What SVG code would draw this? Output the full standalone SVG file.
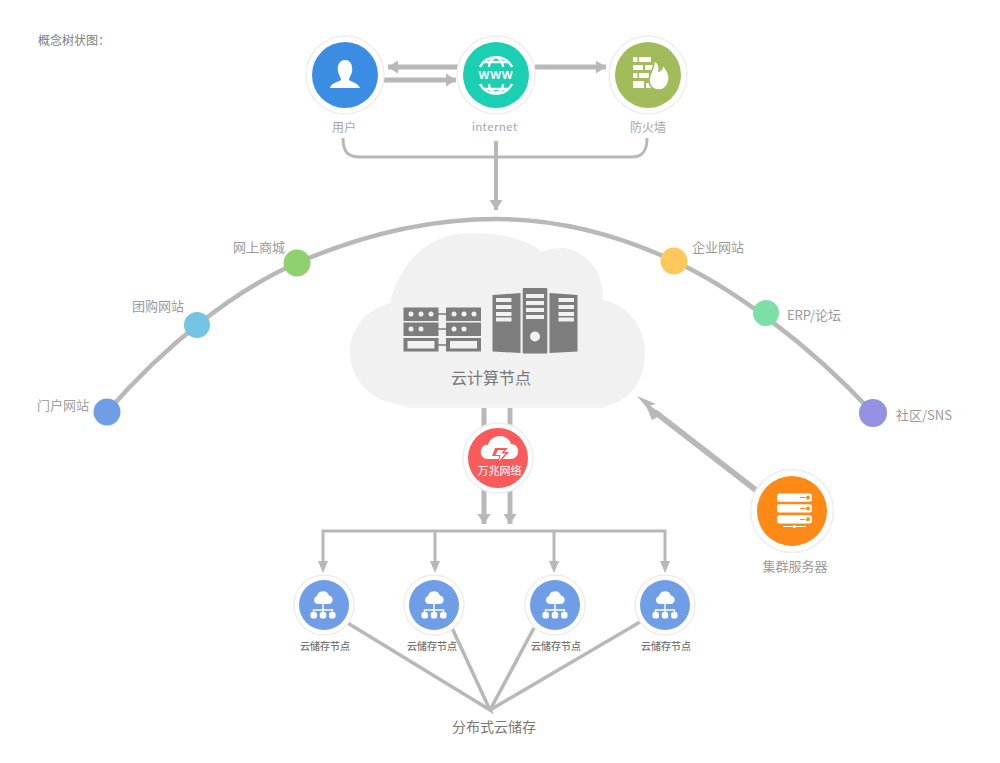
<svg xmlns="http://www.w3.org/2000/svg" xmlns:xlink="http://www.w3.org/1999/xlink" width="1000" height="763" viewBox="0 0 1000 763">
  <style>
    text { font-family: "Noto Sans CJK SC", "Noto Sans", sans-serif; text-anchor: middle; }
    .ring { fill: #fff; stroke: #eeeeee; stroke-width: 1.5; }
    .w { fill: #fff; }
    .conn { fill: none; stroke: #b8b8b8; }
    .head { fill: #b8b8b8; }
    .lbl { fill: #a6a6a6; font-size: 12px; }
    .arc-lbl { fill: #9a9a9a; font-size: 13px; }
    .store-lbl { fill: #747474; font-size: 10px; font-weight: 500; }
    .ink { fill: #7d7d7d; }
  </style>
  <defs>
    <marker id="tip" markerUnits="userSpaceOnUse" markerWidth="12" markerHeight="14" refX="10" refY="7" orient="auto">
      <path d="M0 0.5 L10 7 L0 13.5 Z" class="head"/>
    </marker>
    <g id="store-icon">
      <path class="w" d="M-5.5 -1 a4 4 0 0 1 -.6 -7.8 a6.2 6.2 0 0 1 12 -.6 a4.3 4.3 0 0 1 .6 8.4 Z"/>
      <path d="M0 -1 V7 M-9.5 9 V5 H9.5 V9" fill="none" stroke="#fff" stroke-width="1.4"/>
      <rect class="w" x="-12.5" y="7" width="6.4" height="6.4" rx="2"/>
      <rect class="w" x="-3.2" y="7" width="6.4" height="6.4" rx="2"/>
      <rect class="w" x="6.1" y="7" width="6.4" height="6.4" rx="2"/>
    </g>
  </defs>

  <rect width="1000" height="763" fill="#fff"/>
  <text x="38" y="45" style="font-size:12px;fill:#808080;text-anchor:start">概念树状图：</text>

  <!-- connectors -->
  <g id="connectors">
    <path class="conn" stroke-width="4.5" d="M107 412 C165 345 235 290 297 263 C355 238 425 219 496 219 C565 219 625 238 674 261 C730 287 805 340 873 413"/>
    <path class="conn" stroke-width="3" d="M343 138 C343 152 348 157 360 157 H632 C642 157 647 152 647 138"/>
    <path class="conn" stroke-width="4" d="M496 141 V210" marker-end="url(#tip)"/>
    <path class="conn" stroke-width="5" d="M458 67 H388" marker-end="url(#tip)"/>
    <path class="conn" stroke-width="5" d="M384 80 H456" marker-end="url(#tip)"/>
    <path class="conn" stroke-width="5" d="M535 67 H606" marker-end="url(#tip)"/>
    <path class="conn" stroke-width="5" d="M484 408 V524" marker-end="url(#tip)"/>
    <path class="conn" stroke-width="5" d="M510 408 V524" marker-end="url(#tip)"/>
    <path class="conn" stroke-width="3" d="M323 562 V531 H665 V562"/>
    <path class="conn" stroke-width="3" d="M435 531 V562 M554 531 V562"/>
    <path class="head" d="M318 561 H328 L323 573 Z M430 561 H440 L435 573 Z M549 561 H559 L554 573 Z M660 561 H670 L665 573 Z"/>
    <path class="conn" stroke-width="6" d="M757 491 L655 412"/>
    <path class="head" d="M637 396 L656 404 L650 405.5 L660 413 L656 418 L652 420 L647 408 Z"/>
    <path class="conn" stroke-width="3.5" d="M346 622 L490 710 L452 628 M490 710 L534 628 M490 710 L640 622"/>
  </g>

  <!-- top row -->
  <g id="user">
    <circle class="ring" cx="345" cy="75" r="39"/>
    <circle cx="345" cy="75" r="33" fill="#3b8de3"/>
    <path class="w" d="M330 88 C331 83 338 82 341 80 C341 78 339 75 338 72 C337 66 339 60 345 60 C351 60 353 66 352 72 C351 75 349 78 349 80 C352 82 358 83 360 88 Z"/>
    <text class="lbl" x="344" y="132">用户</text>
  </g>
  <g id="internet">
    <circle class="ring" cx="496" cy="75" r="39"/>
    <circle cx="496" cy="75" r="33" fill="#1bcfb2"/>
    <g fill="none" stroke="#fff" stroke-width="2.4">
      <path d="M480 67 A18 18 0 0 1 512 67 M480 84 A18 18 0 0 0 512 84"/>
      <path d="M489 67 C489 62 491 59 496 57 C501 59 503 62 503 67 M489 84 C489 89 491 92 496 93 C501 92 503 89 503 84"/>
      <path d="M484 62 H508 M484 89 H508"/>
    </g>
    <text x="496" y="79" style="font-family:'Liberation Sans',sans-serif;font-size:11.5px;font-weight:700;fill:#fff;letter-spacing:.8px">WWW</text>
    <text class="lbl" x="495" y="131" style="font-family:Lato,sans-serif;letter-spacing:.5px">internet</text>
  </g>
  <g id="firewall">
    <circle class="ring" cx="648" cy="75" r="39"/>
    <circle cx="648" cy="75" r="33" fill="#a2bc5b"/>
    <g class="w">
      <rect x="633" y="57" width="4.5" height="5"/><rect x="639" y="57" width="12" height="5"/>
      <rect x="633" y="65" width="10" height="5"/><rect x="645" y="65" width="8" height="5"/>
      <rect x="633" y="73" width="4.5" height="5"/><rect x="639" y="73" width="10" height="5"/>
      <rect x="633" y="81" width="11" height="7"/><rect x="646" y="83" width="10" height="5"/>
      <path d="M654 60 C659 63 660 67 659 71 C662 70 663 67 662 64 C667 69 670 74 669 80 C668 86 664 90 659 90 C653 90 649 86 649 80 C649 73 655 68 654 60 Z" stroke="#a2bc5b" stroke-width="1.6"/>
    </g>
    <text class="lbl" x="648" y="132">防火墙</text>
  </g>

  <!-- cloud with the compute node -->
  <g id="compute">
    <path d="M400 404 H612 L604 408 H408 Z" fill="#f5f5f5"/>
    <path fill="#f1f1f1" d="M403 405 C371 402 350 380 350 352 C350 328 367 309 390 303 C399 262 430 233 470 233 C500 233 528 239 542 252 C548 249 556 248 563 248 C586 250 604 272 603 300 C627 304 645 326 645 353 C645 382 628 402 607 405 Z"/>
    <g class="ink">
      <rect x="403.5" y="307.5" width="35" height="13.5"/><rect x="446" y="307.5" width="35" height="13.5"/>
      <rect x="403.5" y="322.5" width="35" height="13.5"/><rect x="446" y="322.5" width="35" height="13.5"/>
      <rect x="403.5" y="338" width="35" height="13.5"/><rect x="446" y="338" width="35" height="13.5"/>
      <path d="M438 314 H447 M438 329 H447 M438 345 H447" stroke="#7d7d7d" stroke-width="1.5"/>
      <path d="M492.5 295 L520.5 293 V353 L492.5 351.5 Z"/>
      <rect x="522.7" y="288" width="24.6" height="65.5" rx="1"/>
      <path d="M549.5 293 L577.5 295 V351.5 L549.5 353 Z"/>
    </g>
    <g fill="#f1f1f1">
      <circle cx="411" cy="314" r="2.5"/><circle cx="421" cy="314" r="2.5"/><circle cx="431" cy="314" r="2.5"/>
      <circle cx="454" cy="314" r="2.5"/><circle cx="464" cy="314" r="2.5"/><circle cx="474" cy="314" r="2.5"/>
      <circle cx="411" cy="329" r="2.5"/><circle cx="421" cy="329" r="2.5"/>
      <circle cx="454" cy="329" r="2.5"/><circle cx="464" cy="329" r="2.5"/>
      <rect x="407.5" y="341" width="27" height="7.5"/><rect x="450" y="341" width="27" height="7.5"/>
      <rect x="496" y="298" width="15.5" height="4"/><rect x="496" y="305" width="15.5" height="4"/>
      <rect x="496" y="312" width="15.5" height="4"/><rect x="496" y="317.5" width="15.5" height="4"/>
      <rect x="526" y="294" width="18" height="4"/><rect x="526" y="301" width="18" height="4"/>
      <rect x="526" y="308" width="18" height="4"/><rect x="526" y="315" width="18" height="4"/>
      <circle cx="535" cy="336.5" r="5"/>
      <rect x="558.5" y="298" width="15.5" height="4"/><rect x="558.5" y="305" width="15.5" height="4"/>
      <rect x="558.5" y="312" width="15.5" height="4"/><rect x="558.5" y="317.5" width="15.5" height="4"/>
    </g>
    <text x="491" y="384" style="font-size:16px;fill:#777">云计算节点</text>
  </g>

  <!-- points on the arc -->
  <g id="portal"><circle cx="107" cy="412" r="13.5" fill="#6f9de6"/><text x="63" y="410" style="font-size:13px;fill:#a0a0a0">门户网站</text></g>
  <g id="group-buy"><circle cx="197" cy="325" r="13" fill="#72c6e4"/><text class="arc-lbl" x="158" y="311">团购网站</text></g>
  <g id="mall"><circle cx="297" cy="263" r="13.5" fill="#8fd16f"/><text class="arc-lbl" x="259" y="252">网上商城</text></g>
  <g id="enterprise"><circle cx="674" cy="261" r="13.5" fill="#fdc95a"/><text class="arc-lbl" x="718" y="252">企业网站</text></g>
  <g id="forum"><circle cx="766" cy="313" r="13" fill="#7ddfa8"/><text class="arc-lbl" x="814" y="320">ERP/论坛</text></g>
  <g id="community"><circle cx="873" cy="413" r="14" fill="#9490e2"/><text class="arc-lbl" x="924" y="420">社区/SNS</text></g>

  <!-- network hub -->
  <g id="network">
    <circle class="ring" cx="498" cy="458" r="35"/>
    <circle cx="498" cy="458" r="30" fill="#f95a5a"/>
    <path class="w" d="M488 459 C482 459 480 454 481 450 C482 446 485 444 488 445 C489 440 494 436 500 436 C506 436 510 440 511 444 C516 444 519 448 518 453 C517 457 514 459 510 459 Z"/>
    <path d="M495 448 H508 L504 452 H509 L497 465 L499 456 H492 Z" fill="#f95a5a"/>
    <path class="w" d="M498 450 H504 L501 453.5 H505.5 L499 461 L500.5 455 H495.5 Z"/>
    <text x="499.5" y="475" style="font-size:11px;fill:#fff">万兆网络</text>
  </g>

  <!-- cluster server -->
  <g id="cluster">
    <circle class="ring" cx="792" cy="511" r="41.5"/>
    <circle cx="792" cy="511" r="35" fill="#fd8a17"/>
    <rect class="w" x="777" y="493.5" width="35" height="8.2" rx="2.5"/>
    <rect class="w" x="777" y="504.3" width="35" height="8.2" rx="2.5"/>
    <rect class="w" x="777" y="515.2" width="35" height="8.2" rx="2.5"/>
    <g fill="#fd8a17">
      <circle cx="808" cy="497.6" r="2"/><circle cx="808" cy="508.4" r="2"/><circle cx="808" cy="519.3" r="2"/>
      <path d="M800 497 h5 v1 h-5z M800 508 h5 v1 h-5z M800 519 h5 v1 h-5z"/>
    </g>
    <path d="M783 526.5 H806" stroke="#fff" stroke-width="1"/>
    <circle class="w" cx="794.5" cy="526.5" r="1.5"/>
    <text x="795" y="571" style="font-size:13px;fill:#9a9a9a">集群服务器</text>
  </g>

  <!-- storage nodes -->
  <g id="store-1">
    <circle class="ring" cx="324" cy="605" r="30"/><circle cx="324" cy="605" r="25" fill="#6f9de6"/>
    <use xlink:href="#store-icon" href="#store-icon" x="323" y="605"/>
    <text class="store-lbl" x="325" y="650">云储存节点</text>
  </g>
  <g id="store-2">
    <circle class="ring" cx="434" cy="605" r="30"/><circle cx="434" cy="605" r="25" fill="#6f9de6"/>
    <use xlink:href="#store-icon" href="#store-icon" x="434" y="605"/>
    <text class="store-lbl" x="432" y="650">云储存节点</text>
  </g>
  <g id="store-3">
    <circle class="ring" cx="555" cy="605" r="30"/><circle cx="555" cy="605" r="25" fill="#6f9de6"/>
    <use xlink:href="#store-icon" href="#store-icon" x="555" y="605"/>
    <text class="store-lbl" x="556" y="650">云储存节点</text>
  </g>
  <g id="store-4">
    <circle class="ring" cx="665" cy="605" r="30"/><circle cx="665" cy="605" r="25" fill="#6f9de6"/>
    <use xlink:href="#store-icon" href="#store-icon" x="665" y="605"/>
    <text class="store-lbl" x="666" y="650">云储存节点</text>
  </g>

  <g id="distributed-store">
    <text x="494" y="732" style="font-size:14px;fill:#777">分布式云储存</text>
  </g>
</svg>
